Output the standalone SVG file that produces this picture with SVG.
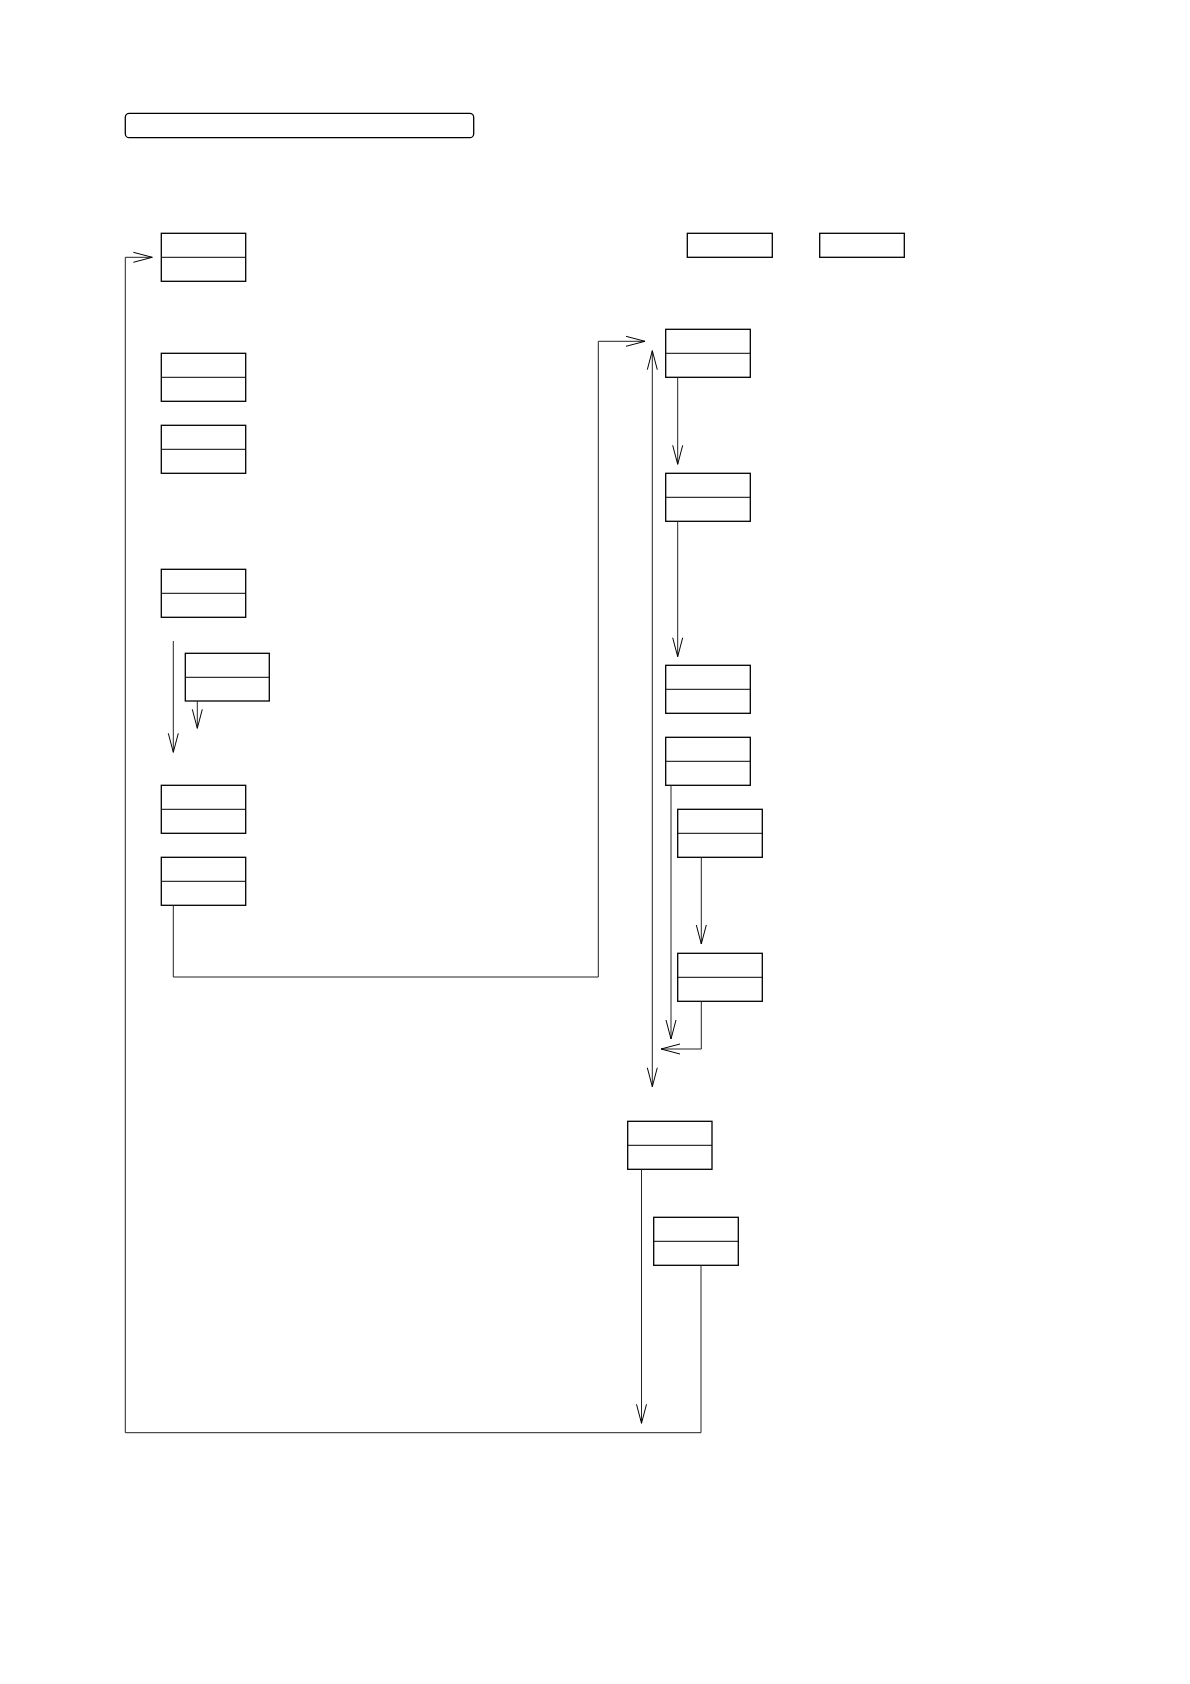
<svg xmlns="http://www.w3.org/2000/svg" width="1190" height="1684" viewBox="0 0 1190 1684">
<defs>
<style>
.box{fill:#fff;stroke:#000;stroke-width:1.3}
.div{stroke:#000;stroke-width:1}
.con{fill:none;stroke:#222;stroke-width:1}
</style>
<marker id="arr" markerUnits="userSpaceOnUse" markerWidth="24" markerHeight="14" viewBox="-21 -7 24 14" refX="0" refY="0" orient="auto-start-reverse">
<path d="M-19,-5 L0,0 L-19,5" fill="none" stroke="#000" stroke-width="1"/>
</marker>
</defs>
<rect width="1190" height="1684" fill="#fff"/>
<g id="title"><rect x="125.3" y="113.3" width="348.4" height="24.4" rx="4" class="box"/></g>
<g id="legendA"><rect x="687.3" y="233.3" width="85" height="24" class="box"/></g>
<g id="legendB"><rect x="819.7" y="233.3" width="84.6" height="24" class="box"/></g>

<g id="L1"><rect x="161.3" y="233.3" width="84.4" height="48" class="box"/><line x1="161.3" y1="257.3" x2="245.7" y2="257.3" class="div"/></g>
<g id="L2"><rect x="161.3" y="353.3" width="84.4" height="48" class="box"/><line x1="161.3" y1="377.3" x2="245.7" y2="377.3" class="div"/></g>
<g id="L3"><rect x="161.3" y="425.3" width="84.4" height="48" class="box"/><line x1="161.3" y1="449.3" x2="245.7" y2="449.3" class="div"/></g>
<g id="L4"><rect x="161.3" y="569.3" width="84.4" height="48" class="box"/><line x1="161.3" y1="593.3" x2="245.7" y2="593.3" class="div"/></g>
<g id="L4a"><rect x="185.3" y="653.3" width="84" height="47.7" class="box"/><line x1="185.3" y1="677.3" x2="269.3" y2="677.3" class="div"/></g>
<g id="L5"><rect x="161.3" y="785.3" width="84.4" height="48" class="box"/><line x1="161.3" y1="809.3" x2="245.7" y2="809.3" class="div"/></g>
<g id="L6"><rect x="161.3" y="857.3" width="84.4" height="48" class="box"/><line x1="161.3" y1="881.3" x2="245.7" y2="881.3" class="div"/></g>

<g id="R1"><rect x="665.7" y="329.3" width="84.6" height="48" class="box"/><line x1="665.7" y1="353.3" x2="750.3" y2="353.3" class="div"/></g>
<g id="R2"><rect x="665.7" y="473.3" width="84.6" height="48" class="box"/><line x1="665.7" y1="497.3" x2="750.3" y2="497.3" class="div"/></g>
<g id="R3"><rect x="665.7" y="665.3" width="84.6" height="48" class="box"/><line x1="665.7" y1="689.3" x2="750.3" y2="689.3" class="div"/></g>
<g id="R4"><rect x="665.7" y="737.3" width="84.6" height="48" class="box"/><line x1="665.7" y1="761.3" x2="750.3" y2="761.3" class="div"/></g>
<g id="R5"><rect x="677.7" y="809.3" width="84.6" height="48" class="box"/><line x1="677.7" y1="833.3" x2="762.3" y2="833.3" class="div"/></g>
<g id="R6"><rect x="677.7" y="953.3" width="84.6" height="48" class="box"/><line x1="677.7" y1="977.3" x2="762.3" y2="977.3" class="div"/></g>

<g id="B1"><rect x="627.7" y="1121.3" width="84.3" height="48" class="box"/><line x1="627.7" y1="1145.3" x2="712" y2="1145.3" class="div"/></g>
<g id="B2"><rect x="653.7" y="1217.3" width="84.6" height="48" class="box"/><line x1="653.7" y1="1241.3" x2="738.3" y2="1241.3" class="div"/></g>

<g id="connectors">
<polyline class="con" points="701,1265.3 701,1432.7 125.3,1432.7 125.3,257.3 152.3,257.3" marker-end="url(#arr)"/>
<polyline class="con" points="173.3,905.3 173.3,977 598.3,977 598.3,341.3 645,341.3" marker-end="url(#arr)"/>
<line class="con" x1="173.3" y1="641" x2="173.3" y2="752.3" marker-end="url(#arr)"/>
<line class="con" x1="197.3" y1="701" x2="197.3" y2="728.3" marker-end="url(#arr)"/>
<line class="con" x1="677.7" y1="377.3" x2="677.7" y2="464.3" marker-end="url(#arr)"/>
<line class="con" x1="677.7" y1="521.3" x2="677.7" y2="656.7" marker-end="url(#arr)"/>
<line class="con" x1="671" y1="785.3" x2="671" y2="1039" marker-end="url(#arr)"/>
<line class="con" x1="701.3" y1="857.3" x2="701.3" y2="944" marker-end="url(#arr)"/>
<polyline class="con" points="701.3,1001.3 701.3,1049 661,1049" marker-end="url(#arr)"/>
<line class="con" x1="652.3" y1="350.7" x2="652.3" y2="1086.7" marker-start="url(#arr)" marker-end="url(#arr)"/>
<line class="con" x1="641.5" y1="1169.3" x2="641.5" y2="1423.3" marker-end="url(#arr)"/>
</g>
</svg>
